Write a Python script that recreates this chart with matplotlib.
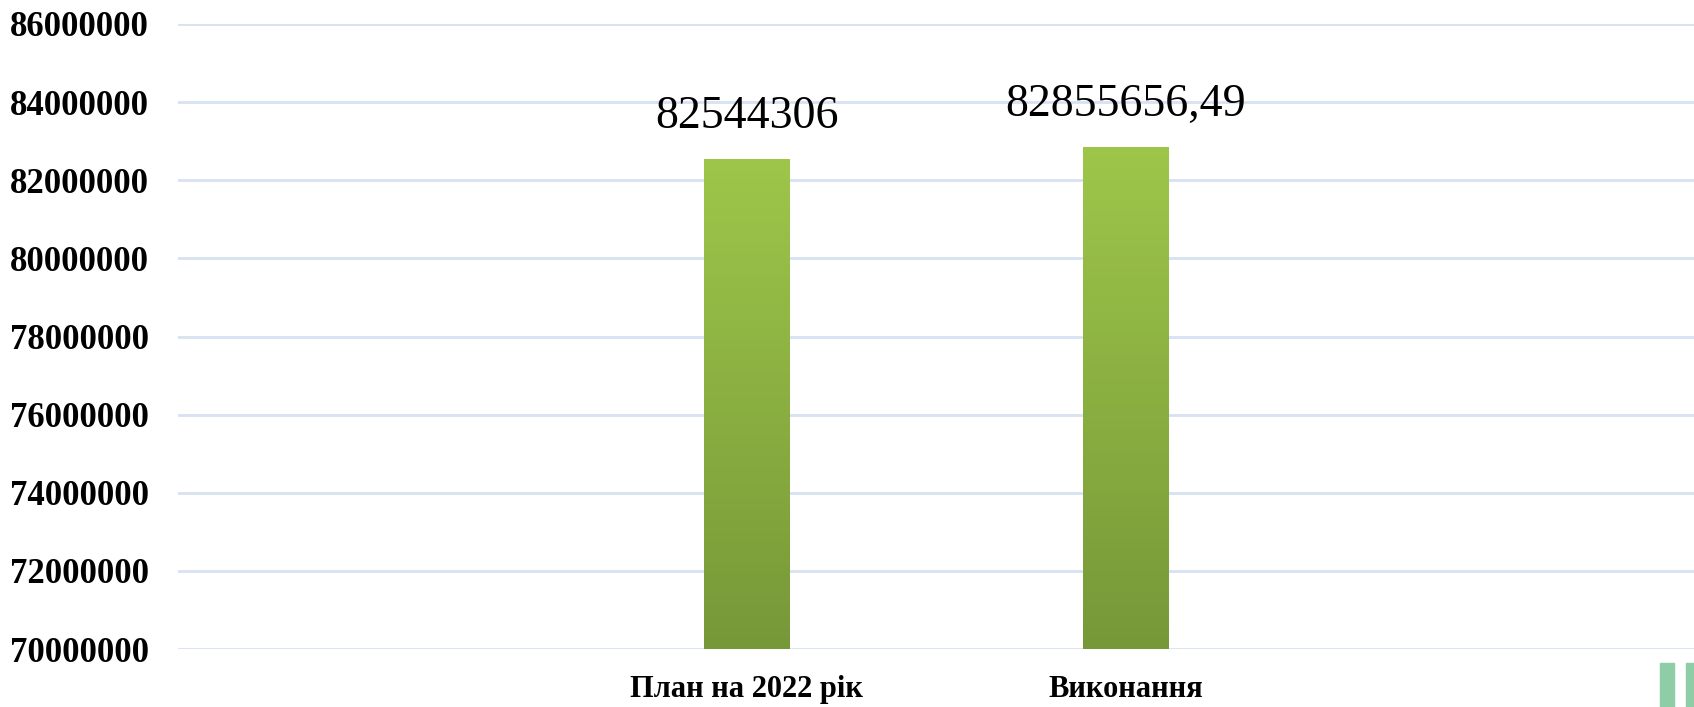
import matplotlib
matplotlib.use("Agg")
import matplotlib.pyplot as plt
import numpy as np
from matplotlib.patches import Rectangle
from matplotlib.colors import LinearSegmentedColormap

categories = ["План на 2022 рік", "Виконання"]
values = [82544306, 82855656.49]
value_labels = ["82544306", "82855656,49"]
y_ticks = [70000000, 72000000, 74000000, 76000000, 78000000, 80000000, 82000000, 84000000, 86000000]

plt.rcParams['font.family'] = ['Liberation Serif', 'DejaVu Serif']

fig = plt.figure(figsize=(16.94, 7.07), dpi=100)
ax = fig.add_axes([178/1694, 58/707, 1516/1694, 625/707])

ymin, ymax = 70000000, 86000000

cmap = LinearSegmentedColormap.from_list("g", ["#779838", "#9EC64A"])
grad = np.linspace(0, 1, 256).reshape(-1, 1)

bars = ax.bar(categories, values, width=0.225, bottom=0, color="none", zorder=3)
for b in bars:
    x0 = b.get_x(); w = b.get_width(); top = b.get_height()
    im = ax.imshow(grad, cmap=cmap, origin="lower", aspect="auto",
                   extent=[x0, x0 + w, ymin, top], zorder=3)
    im.set_clip_path(b)
ax.set_xlim(-1.5, 2.5)
ax.set_ylim(ymin, ymax)

for b, lab in zip(bars, value_labels):
    ax.annotate(lab, (b.get_x() + b.get_width() / 2, b.get_height()),
                xytext=(0, 15), textcoords="offset points",
                ha="center", va="bottom", fontsize=33, color="black")

ax.set_yticks(y_ticks)
ax.set_yticklabels([str(v) for v in y_ticks], fontsize=25, fontweight="bold")
ax.yaxis.grid(True, color="#D6E1F1", linewidth=2)
ax.set_axisbelow(True)
ax.tick_params(axis="both", length=0)
ax.tick_params(axis="y", pad=21)
for lbl in ax.get_xticklabels():
    lbl.set_fontsize(22)
    lbl.set_fontweight("bold")
ax.tick_params(axis="x", pad=19)
for s in ax.spines.values():
    s.set_visible(False)

# decorative slide elements bottom right
fig.patches.append(Rectangle((1660/1694, 0), 14/1694, 44/707, transform=fig.transFigure,
                             color="#8ECDA6", zorder=0))
fig.patches.append(Rectangle((1686/1694, 0), 8/1694, 44/707, transform=fig.transFigure,
                             color="#8ECDA6", zorder=0))

fig.savefig("out.png", dpi=100)
